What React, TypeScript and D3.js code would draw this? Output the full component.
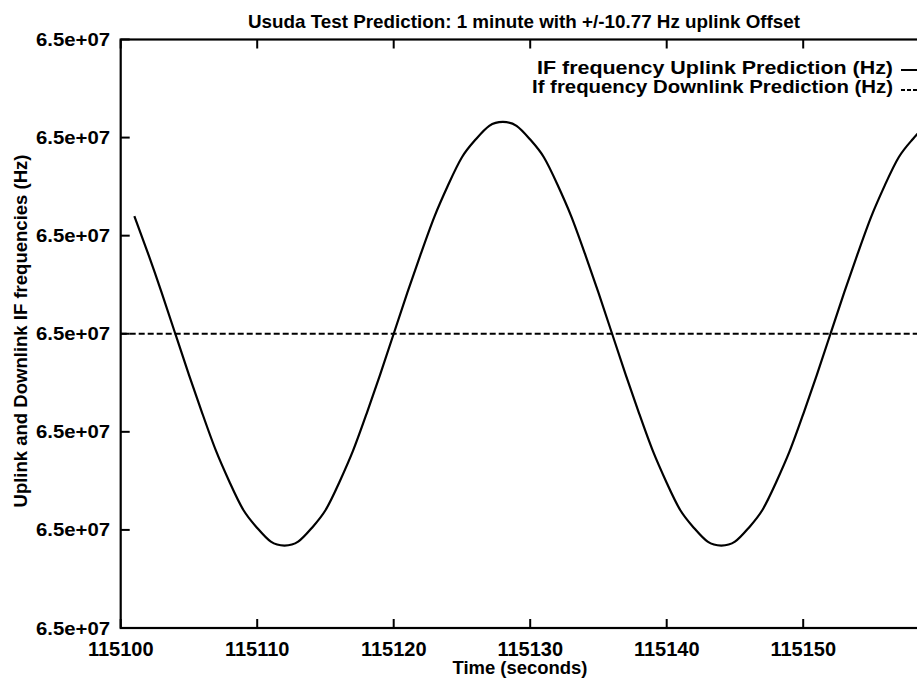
import * as d3 from "d3";

// Time samples (s) and uplink IF offset from the base frequency (Hz)
const times = [
	115101, 115102, 115103, 115104, 115105, 115106, 115107, 115108, 115109, 115110,
	115111, 115112, 115113, 115114, 115115, 115116, 115117, 115118, 115119, 115120,
	115121, 115122, 115123, 115124, 115125, 115126, 115127, 115128, 115129, 115130,
	115131, 115132, 115133, 115134, 115135, 115136, 115137, 115138, 115139, 115140,
	115141, 115142, 115143, 115144, 115145, 115146, 115147, 115148, 115149, 115150,
	115151, 115152, 115153, 115154, 115155, 115156, 115157, 115158, 115159, 115160,
];
const uplinkOffsetHz = [
	6.0, 4.1, 2.1, 0, -2.1, -4.1, -6.0, -7.6, -9.0, -9.9,
	-10.6, -10.8, -10.6, -9.9, -9.0, -7.6, -6.0, -4.1, -2.1, 0,
	2.1, 4.1, 6.0, 7.6, 9.0, 9.9, 10.6, 10.8, 10.6, 9.9,
	9.0, 7.6, 6.0, 4.1, 2.1, 0, -2.1, -4.1, -6.0, -7.6,
	-9.0, -9.9, -10.6, -10.8, -10.6, -9.9, -9.0, -7.6, -6.0, -4.1,
	-2.1, 0, 2.1, 4.1, 6.0, 7.6, 9.0, 9.9, 10.6, 10.8,
];
const downlinkTimes = [115100, 115160];
const downlinkOffsetHz = [0, 0];
const baseFreqHz = 65000000;

const xTicks = [115100, 115110, 115120, 115130, 115140, 115150];
const yTickOffsets = [-15, -10, -5, 0, 5, 10, 15];

const title = "Usuda Test Prediction: 1 minute with +/-10.77 Hz uplink Offset";
const xTitle = "Time (seconds)";
const yTitle = "Uplink and Downlink IF frequencies (Hz)";
const legendUp = "IF frequency  Uplink Prediction (Hz)";
const legendDown = "If frequency Downlink Prediction (Hz)";

const FONT = "'Liberation Sans', Arial, Helvetica, sans-serif";

function fmtExp(v: number) {
	const [m, e] = v.toExponential(1).split("e");
	const sign = e[0];
	const digits = e.slice(1).padStart(2, "0");
	return `${m}e${sign}${digits}`;
}

export default function App() {
	const width = 917;
	const height = 680;
	const left = 120.7;
	const top = 39.5;
	const bottom = 628;
	const right = 939.7;

	const x = d3.scaleLinear().domain([115100, 115160]).range([left, right]);
	const y = d3
		.scaleLinear()
		.domain([baseFreqHz - 15, baseFreqHz + 15])
		.range([bottom, top]);

	const upLine = d3
		.line<number>()
		.x((_, i) => x(times[i]))
		.y((d) => y(baseFreqHz + d))
		.curve(d3.curveNatural);
	const downLine = d3
		.line<number>()
		.x((_, i) => x(downlinkTimes[i]))
		.y((d) => y(baseFreqHz + d));

	const tickLen = 9;

	return (
		<svg
			width={width}
			height={height}
			style={{ position: "absolute", left: 0, top: 0, background: "#fff" }}
			fontFamily={FONT}
			fontWeight="bold"
		>
			<rect x={0} y={0} width={width} height={height} fill="#fff" />
			<text x={524} y={28} fontSize={19} textAnchor="middle" textLength={552} lengthAdjust="spacingAndGlyphs">
				{title}
			</text>

			{/* frame */}
			<rect
				x={left}
				y={top}
				width={right - left}
				height={bottom - top}
				fill="none"
				stroke="#000"
				strokeWidth={2.2}
			/>

			{/* y ticks */}
			{yTickOffsets.map((o) => {
				const yy = y(baseFreqHz + o);
				return (
					<g key={o}>
						<line x1={left} x2={left + tickLen} y1={yy} y2={yy} stroke="#000" strokeWidth={2} />
						<line x1={right} x2={right - tickLen} y1={yy} y2={yy} stroke="#000" strokeWidth={2} />
						<text
							x={110}
							y={yy + 6.5}
							fontSize={18}
							textAnchor="end"
							textLength={74}
							lengthAdjust="spacingAndGlyphs"
						>
							{fmtExp(baseFreqHz + o)}
						</text>
					</g>
				);
			})}

			{/* x ticks */}
			{xTicks.map((t) => {
				const xx = x(t);
				return (
					<g key={t}>
						<line x1={xx} x2={xx} y1={bottom} y2={bottom - tickLen} stroke="#000" strokeWidth={2} />
						<line x1={xx} x2={xx} y1={top} y2={top + tickLen} stroke="#000" strokeWidth={2} />
						<text x={xx} y={656} fontSize={20} textAnchor="middle">
							{t}
						</text>
					</g>
				);
			})}

			<text x={520} y={674} fontSize={18} textAnchor="middle" textLength={135} lengthAdjust="spacingAndGlyphs">
				{xTitle}
			</text>
			<text
				transform="translate(27,331) rotate(-90)"
				fontSize={18}
				textAnchor="middle"
				textLength={353}
				lengthAdjust="spacingAndGlyphs"
			>
				{yTitle}
			</text>

			{/* series */}
			<path d={downLine(downlinkOffsetHz) ?? ""} fill="none" stroke="#000" strokeWidth={2} strokeDasharray="6,3" />
			<path d={upLine(uplinkOffsetHz) ?? ""} fill="none" stroke="#000" strokeWidth={2.2} />

			{/* legend */}
			<text x={893} y={74} fontSize={19} textAnchor="end" textLength={356} lengthAdjust="spacingAndGlyphs">
				{legendUp}
			</text>
			<line x1={901} x2={945} y1={70} y2={70} stroke="#000" strokeWidth={2} />
			<text x={893} y={93} fontSize={19} textAnchor="end" textLength={361} lengthAdjust="spacingAndGlyphs">
				{legendDown}
			</text>
			<line x1={901} x2={945} y1={90} y2={90} stroke="#000" strokeWidth={2} strokeDasharray="4,2" />
		</svg>
	);
}
